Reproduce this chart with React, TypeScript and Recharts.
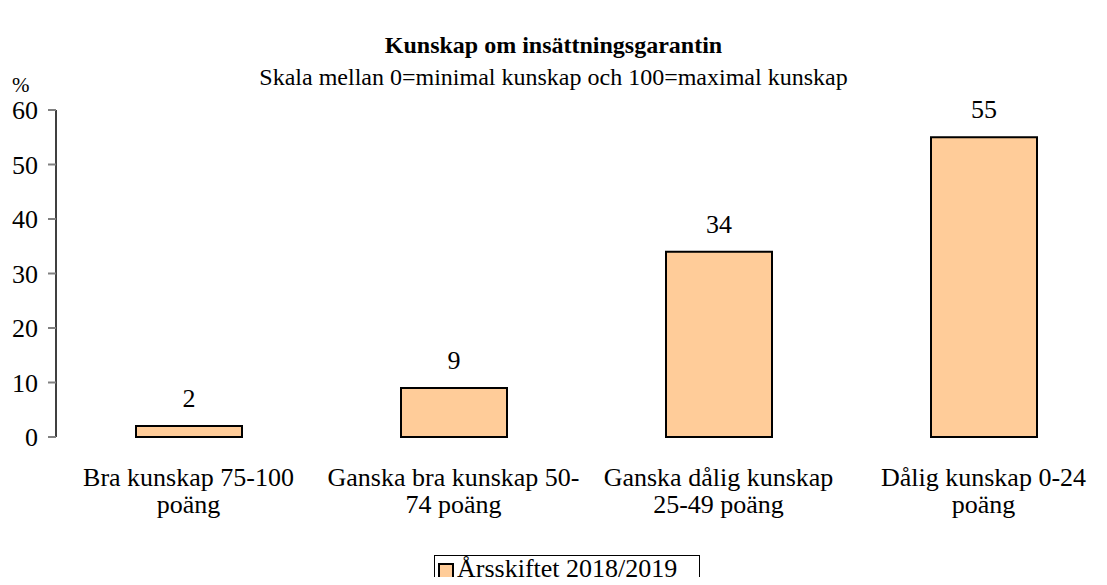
import { BarChart, Bar, XAxis, YAxis, LabelList } from 'recharts';

const categories = [
  'Bra kunskap 75-100\npoäng',
  'Ganska bra kunskap 50-\n74 poäng',
  'Ganska dålig kunskap\n25-49 poäng',
  'Dålig kunskap 0-24\npoäng',
];
const values = [2, 9, 34, 55];
const yTicks = [0, 10, 20, 30, 40, 50, 60];
const slotTicks = [0, 1, 2, 3, 4];
const seriesName = 'Årsskiftet 2018/2019';

const data = categories.map((c, i) => ({ name: c, value: values[i] }));

const FONT = 'Liberation Serif, Times New Roman, DejaVu Serif, serif';

function CategoryTick(props: any) {
  const { x, y, payload } = props;
  const lines = String(payload.value).split('\n');
  return (
    <text x={x} y={y} textAnchor="middle" style={{ fontFamily: FONT }} fontSize={26} fill="#000">
      {lines.map((l, i) => (
        <tspan key={i} x={x} dy={i === 0 ? 41 : 27}>
          {l}
        </tspan>
      ))}
    </text>
  );
}

export default function App() {
  return (
    <div style={{ margin: -8, width: 1107, height: 585, overflow: 'hidden', position: 'relative', background: '#fff', fontFamily: FONT }}>
      <div style={{ position: 'absolute', top: 32, left: 0, width: 1107, textAlign: 'center', fontSize: 24, fontWeight: 'bold', lineHeight: '26px' }}>
        Kunskap om insättningsgarantin
      </div>
      <div style={{ position: 'absolute', top: 64, left: 0, width: 1107, textAlign: 'center', fontSize: 24, lineHeight: '26px' }}>
        Skala mellan 0=minimal kunskap och 100=maximal kunskap
      </div>
      <div style={{ position: 'absolute', top: 76, left: 12, fontSize: 21, lineHeight: '18px' }}>%</div>
      <div style={{ position: 'absolute', top: 0, left: 0 }}>
        <BarChart
          width={1120}
          height={585}
          data={data}
          margin={{ top: 110, right: 4, left: 0, bottom: 48 }}
          style={{ fontFamily: FONT }}
        >
          <XAxis
            xAxisId="slots"
            type="number"
            domain={[0, 4]}
            ticks={slotTicks}
            tick={false}
            height={0}
            axisLine={{ stroke: '#808080', strokeWidth: 2 }}
            tickLine={{ stroke: '#808080', strokeWidth: 2 }}
            tickSize={8}
          />
          <XAxis
            dataKey="name"
            height={100}
            axisLine={false}
            tickLine={false}
            interval={0}
            tick={<CategoryTick />}
          />
          <YAxis
            width={56}
            domain={[0, 60]}
            ticks={yTicks}
            interval={0}
            axisLine={{ stroke: '#000', strokeWidth: 1.5 }}
            tickLine={{ stroke: '#808080', strokeWidth: 2 }}
            tickSize={8}
            tickMargin={10}
            tick={{ fill: '#000', fontSize: 26, style: { fontFamily: FONT } }}
          />
          <Bar dataKey="value" fill="#FFCC99" stroke="#000" strokeWidth={2} barSize={106} isAnimationActive={false}>
            <LabelList dataKey="value" position="top" offset={19} fill="#000" fontSize={26} style={{ fontFamily: FONT }} />
          </Bar>
        </BarChart>
      </div>
      <div style={{ position: 'absolute', top: 555, left: 434, width: 266, height: 40, border: '1px solid #000', boxSizing: 'border-box', display: 'flex', alignItems: 'flex-start', paddingTop: 0, paddingLeft: 3, fontSize: 26, lineHeight: '26px' }}>
        <span style={{ display: 'inline-block', width: 12, height: 12, background: '#FFCC99', border: '2px solid #000', marginTop: 7, marginRight: 3, flex: 'none' }} />
        <span style={{ whiteSpace: 'nowrap' }}>{seriesName}</span>
      </div>
    </div>
  );
}
